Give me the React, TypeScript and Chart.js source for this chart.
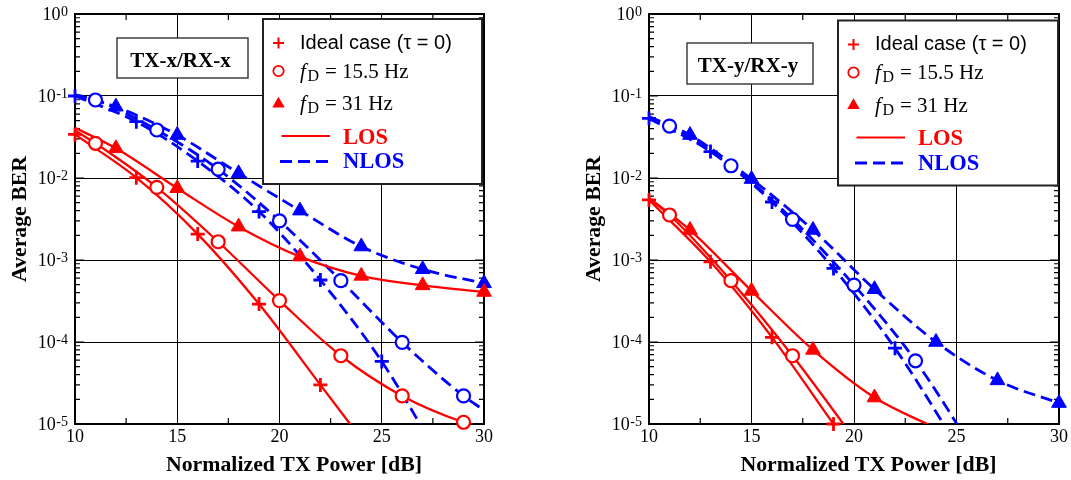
import { useEffect, useRef } from "react";
import { Chart, registerables } from "chart.js";
Chart.register(...registerables);

const RED = "#ff0000";
const BLUE = "#0000ff";
const SERIF = "'Liberation Serif', 'Times New Roman', serif";
const SANS = "'Liberation Sans', Arial, sans-serif";

// axis ticks
const xTickValues = [10, 15, 20, 25, 30];
const xMinorTicks = [12.5, 17.5, 22.5, 27.5];
const yDecadeExponents = [0, -1, -2, -3, -4, -5];

// ---------- LEFT panel: TX-x/RX-x ----------
const lLosIdealX = [10, 13, 16, 19, 22, 25];
const lLosIdealY = [0.034, 0.0101, 0.00207, 2.9e-4, 3.0e-5, 3.1e-6];
const lLosIdealMarks = [10, 13, 16, 19, 22];

const lLos155X = [10, 11, 14, 17, 20, 23, 26, 29, 30];
const lLos155Y = [0.038, 0.0265, 0.0077, 0.00167, 3.2e-4, 6.8e-5, 2.2e-5, 1.05e-5, 9.0e-6];
const lLos155Marks = [11, 14, 17, 20, 23, 26, 29];

const lLos31X = [10, 12, 15, 18, 21, 24, 27, 30];
const lLos31Y = [0.041, 0.023, 0.0075, 0.00255, 0.0011, 6.4e-4, 4.9e-4, 4.07e-4];
const lLos31Marks = [12, 15, 18, 21, 24, 27, 30];

const lNlosIdealX = [10, 13, 16, 19, 22, 25, 28];
const lNlosIdealY = [0.1, 0.0486, 0.0161, 0.0039, 5.7e-4, 5.8e-5, 3.3e-6];
const lNlosIdealMarks = [10, 13, 16, 19, 22, 25];

const lNlos155X = [10, 11, 14, 17, 20, 23, 26, 29, 30];
const lNlos155Y = [0.102, 0.0894, 0.0385, 0.0128, 0.003, 5.6e-4, 9.9e-5, 2.2e-5, 1.48e-5];
const lNlos155Marks = [11, 14, 17, 20, 23, 26, 29];

const lNlos31X = [10, 12, 15, 18, 21, 24, 27, 30];
const lNlos31Y = [0.104, 0.074, 0.0334, 0.0114, 0.004, 0.00146, 7.7e-4, 5.2e-4];
const lNlos31Marks = [12, 15, 18, 21, 24, 27, 30];

// ---------- RIGHT panel: TX-y/RX-y ----------
const rLosIdealX = [10, 13, 16, 19, 22];
const rLosIdealY = [0.0054, 9.5e-4, 1.14e-4, 1.0e-5, 9.0e-7];
const rLosIdealMarks = [10, 13, 16, 19];

const rLos155X = [10, 11, 14, 17, 20];
const rLos155Y = [0.0056, 0.00354, 5.6e-4, 6.8e-5, 6.7e-6];
const rLos155Marks = [11, 14, 17];

const rLos31X = [10, 12, 15, 18, 21, 24];
const rLos31Y = [0.0057, 0.00232, 4.2e-4, 8.0e-5, 2.1e-5, 8.9e-6];
const rLos31Marks = [12, 15, 18, 21];

const rNlosIdealX = [10, 13, 16, 19, 22, 25];
const rNlosIdealY = [0.0534, 0.021, 0.0051, 7.9e-4, 8.4e-5, 5.6e-6];
const rNlosIdealMarks = [10, 13, 16, 19, 22];

const rNlos155X = [10, 11, 14, 17, 20, 23, 26];
const rNlos155Y = [0.055, 0.043, 0.0141, 0.00313, 4.95e-4, 5.9e-5, 4.1e-6];
const rNlos155Marks = [11, 14, 17, 20, 23];

const rNlos31X = [10, 12, 15, 18, 21, 24, 27, 30];
const rNlos31Y = [0.056, 0.0334, 0.0097, 0.00232, 4.4e-4, 1.0e-4, 3.4e-5, 1.8e-5];
const rNlos31Marks = [12, 15, 18, 21, 24, 27, 30];

const legendLabels = ["Ideal case (τ = 0)", "= 15.5 Hz", "= 31 Hz", "LOS", "NLOS"];

type Curve = { xs: number[]; ys: number[]; marks: number[]; style: string; los: boolean };

const leftCurves: Curve[] = [
  { xs: lLosIdealX, ys: lLosIdealY, marks: lLosIdealMarks, style: "cross", los: true },
  { xs: lLos155X, ys: lLos155Y, marks: lLos155Marks, style: "circle", los: true },
  { xs: lLos31X, ys: lLos31Y, marks: lLos31Marks, style: "triangle", los: true },
  { xs: lNlosIdealX, ys: lNlosIdealY, marks: lNlosIdealMarks, style: "cross", los: false },
  { xs: lNlos155X, ys: lNlos155Y, marks: lNlos155Marks, style: "circle", los: false },
  { xs: lNlos31X, ys: lNlos31Y, marks: lNlos31Marks, style: "triangle", los: false },
];
const rightCurves: Curve[] = [
  { xs: rLosIdealX, ys: rLosIdealY, marks: rLosIdealMarks, style: "cross", los: true },
  { xs: rLos155X, ys: rLos155Y, marks: rLos155Marks, style: "circle", los: true },
  { xs: rLos31X, ys: rLos31Y, marks: rLos31Marks, style: "triangle", los: true },
  { xs: rNlosIdealX, ys: rNlosIdealY, marks: rNlosIdealMarks, style: "cross", los: false },
  { xs: rNlos155X, ys: rNlos155Y, marks: rNlos155Marks, style: "circle", los: false },
  { xs: rNlos31X, ys: rNlos31Y, marks: rNlos31Marks, style: "triangle", los: false },
];

type PanelCfg = {
  canvasLeft: number;
  canvasWidth: number;
  area: { left: number; right: number; top: number; bottom: number };
  label: string;
  labelBox: { x: number; y: number; w: number; h: number };
  legendBox: { x: number; y: number; w: number; h: number };
  curves: Curve[];
};

const H = 480;

const panels: PanelCfg[] = [
  {
    canvasLeft: 0,
    canvasWidth: 545,
    area: { left: 75, right: 484, top: 14, bottom: 424 },
    label: "TX-x/RX-x",
    labelBox: { x: 117, y: 38, w: 131, h: 40 },
    legendBox: { x: 263, y: 19, w: 219, h: 165 },
    curves: leftCurves,
  },
  {
    canvasLeft: 545,
    canvasWidth: 526,
    area: { left: 649, right: 1059, top: 14, bottom: 424 },
    label: "TX-y/RX-y",
    labelBox: { x: 687, y: 43, w: 126, h: 41 },
    legendBox: { x: 838, y: 20.5, w: 220, h: 165 },
    curves: rightCurves,
  },
];

function drawMarker(ctx: CanvasRenderingContext2D, style: string, x: number, y: number, color: string, r: number) {
  ctx.save();
  ctx.strokeStyle = color;
  ctx.fillStyle = color;
  ctx.setLineDash([]);
  ctx.beginPath();
  if (style === "cross") {
    ctx.lineWidth = 2;
    ctx.moveTo(x - r, y);
    ctx.lineTo(x + r, y);
    ctx.moveTo(x, y - r);
    ctx.lineTo(x, y + r);
    ctx.stroke();
  } else if (style === "circle") {
    ctx.lineWidth = 1.8;
    ctx.fillStyle = "#fff";
    ctx.arc(x, y, r, 0, Math.PI * 2);
    ctx.fill();
    ctx.stroke();
  } else {
    const rr = r * 1.2;
    ctx.moveTo(x, y - rr);
    ctx.lineTo(x + rr * 0.866, y + rr * 0.5);
    ctx.lineTo(x - rr * 0.866, y + rr * 0.5);
    ctx.closePath();
    ctx.fill();
  }
  ctx.restore();
}

function makePlugin(cfg: PanelCfg) {
  const off = cfg.canvasLeft;
  return {
    id: "panelDecor",
    beforeDatasetsDraw(chart: any) {
      const { ctx, chartArea: a, scales } = chart;
      const ys = scales.y;
      const xs = scales.x;
      ctx.save();
      ctx.strokeStyle = "#000";
      ctx.lineWidth = 1.2;
      ctx.beginPath();
      for (let e = -5; e <= 0; e++) {
        const py = ys.getPixelForValue(Math.pow(10, e));
        ctx.moveTo(a.left, py);
        ctx.lineTo(a.left + 9, py);
        ctx.moveTo(a.right, py);
        ctx.lineTo(a.right - 9, py);
        if (e < 0) {
          for (let k = 2; k <= 9; k++) {
            const pm = ys.getPixelForValue(k * Math.pow(10, e));
            ctx.moveTo(a.left, pm);
            ctx.lineTo(a.left + 5, pm);
            ctx.moveTo(a.right, pm);
            ctx.lineTo(a.right - 5, pm);
          }
        }
      }
      for (const v of xMinorTicks) {
        const px = xs.getPixelForValue(v);
        ctx.moveTo(px, a.bottom);
        ctx.lineTo(px, a.bottom - 6);
        ctx.moveTo(px, a.top);
        ctx.lineTo(px, a.top + 6);
      }
      ctx.stroke();
      ctx.lineWidth = 2;
      ctx.strokeRect(a.left, a.top, a.right - a.left, a.bottom - a.top);
      ctx.restore();
    },
    afterDatasetsDraw(chart: any) {
      const { ctx, chartArea: a, scales } = chart;
      const ys = scales.y;
      const xs = scales.x;
      ctx.save();
      ctx.fillStyle = "#000";
      // y tick labels
      for (const e of yDecadeExponents) {
        const py = ys.getPixelForValue(Math.pow(10, e));
        const expStr = e === 0 ? "0" : "-" + String(-e);
        ctx.font = `14px ${SERIF}`;
        const ew = ctx.measureText(expStr).width;
        const xEnd = a.left - 7;
        ctx.textAlign = "left";
        ctx.textBaseline = "alphabetic";
        ctx.fillText(expStr, xEnd - ew, py + 1.5);
        ctx.font = `18px ${SERIF}`;
        ctx.textAlign = "right";
        ctx.fillText("10", xEnd - ew - 0.5, py + 6);
      }
      // x tick labels
      ctx.font = `18px ${SERIF}`;
      ctx.textAlign = "center";
      for (const v of xTickValues) {
        ctx.fillText(String(v), xs.getPixelForValue(v), a.bottom + 18);
      }
      // axis titles
      ctx.font = `bold 21.8px ${SERIF}`;
      ctx.fillText("Normalized TX Power [dB]", (a.left + a.right) / 2 + 14.5, 471);
      ctx.save();
      ctx.translate(a.left - 56, (a.top + a.bottom) / 2);
      ctx.rotate(-Math.PI / 2);
      ctx.fillText("Average BER", 0, 7);
      ctx.restore();

      // label box
      const lb = cfg.labelBox;
      ctx.fillStyle = "#fff";
      ctx.fillRect(lb.x - off, lb.y, lb.w, lb.h);
      ctx.strokeStyle = "#333";
      ctx.lineWidth = 1.4;
      ctx.strokeRect(lb.x - off, lb.y, lb.w, lb.h);
      ctx.fillStyle = "#000";
      ctx.font = `bold 21px ${SERIF}`;
      ctx.textAlign = "center";
      ctx.fillText(cfg.label, lb.x - off + lb.w / 2 - 2, lb.y + 28.5);

      // legend box
      const g = cfg.legendBox;
      const gx = g.x - off;
      const gy = g.y;
      ctx.fillStyle = "#fff";
      ctx.fillRect(gx, gy, g.w, g.h);
      ctx.strokeStyle = "#222";
      ctx.lineWidth = 2;
      ctx.strokeRect(gx, gy, g.w, g.h);

      const mx = gx + 15.5;
      drawMarker(ctx, "cross", mx, gy + 24, RED, 5.5);
      drawMarker(ctx, "circle", mx, gy + 52, RED, 5.2);
      drawMarker(ctx, "triangle", mx, gy + 85, RED, 6);

      ctx.textAlign = "left";
      ctx.fillStyle = "#000";
      ctx.font = `20px ${SANS}`;
      ctx.fillText(legendLabels[0], gx + 37, gy + 29.5);

      const rows = [
        { base: gy + 58.7, text: legendLabels[1] },
        { base: gy + 91, text: legendLabels[2] },
      ];
      for (const r of rows) {
        ctx.font = `italic 21px ${SERIF}`;
        ctx.fillText("f", gx + 37, r.base);
        ctx.font = `16px ${SERIF}`;
        ctx.fillText("D", gx + 44.5, r.base + 3);
        ctx.font = `21px ${SERIF}`;
        ctx.fillText(r.text, gx + 62, r.base);
      }

      // LOS / NLOS samples
      ctx.strokeStyle = RED;
      ctx.lineWidth = 2;
      ctx.beginPath();
      ctx.moveTo(gx + 18.5, gy + 117);
      ctx.lineTo(gx + 67, gy + 117);
      ctx.stroke();
      ctx.strokeStyle = BLUE;
      ctx.lineWidth = 2.8;
      ctx.setLineDash([12, 6]);
      ctx.beginPath();
      ctx.moveTo(gx + 17, gy + 142.5);
      ctx.lineTo(gx + 69, gy + 142.5);
      ctx.stroke();
      ctx.setLineDash([]);

      ctx.font = `bold 22.5px ${SERIF}`;
      ctx.fillStyle = RED;
      ctx.fillText(legendLabels[3], gx + 80, gy + 124.5);
      ctx.fillStyle = BLUE;
      ctx.fillText(legendLabels[4], gx + 80, gy + 149);
      ctx.restore();
    },
  };
}

function buildDatasets(curves: Curve[]) {
  const markerSets: any[] = [];
  const lineSets: any[] = [];
  for (const c of curves) {
    const color = c.los ? RED : BLUE;
    lineSets.push({
      data: c.xs.map((x, i) => ({ x, y: c.ys[i] })),
      borderColor: color,
      borderWidth: c.los ? 2.3 : 2.8,
      borderDash: c.los ? [] : [12, 6],
      pointRadius: 0,
      fill: false,
      cubicInterpolationMode: "monotone",
      clip: 0,
    });
    const radius = c.style === "cross" ? 7 : c.style === "circle" ? 6.5 : 8.5;
    markerSets.push({
      data: c.marks.map((x) => ({ x, y: c.ys[c.xs.indexOf(x)] })),
      showLine: false,
      pointStyle: c.style,
      pointRadius: radius,
      pointBorderWidth: c.style === "cross" ? 2.8 : c.style === "circle" ? 2.2 : 1,
      pointBorderColor: color,
      pointBackgroundColor: c.style === "circle" ? "#fff" : color,
      clip: false,
    });
  }
  return [...markerSets, ...lineSets];
}

function Panel({ cfg }: { cfg: PanelCfg }) {
  const ref = useRef<HTMLCanvasElement | null>(null);
  useEffect(() => {
    if (!ref.current) return;
    const W = cfg.canvasWidth;
    const a = {
      left: cfg.area.left - cfg.canvasLeft,
      right: cfg.area.right - cfg.canvasLeft,
      top: cfg.area.top,
      bottom: cfg.area.bottom,
    };
    const chart = new Chart(ref.current, {
      type: "line",
      data: { datasets: buildDatasets(cfg.curves) },
      options: {
        responsive: false,
        animation: false,
        devicePixelRatio: 1,
        events: [],
        layout: { padding: { left: 0, top: a.top, right: W - a.right, bottom: 0 } },
        plugins: { legend: { display: false }, tooltip: { enabled: false }, title: { display: false } },
        scales: {
          x: {
            type: "linear",
            min: 10,
            max: 30,
            ticks: { display: false, stepSize: 5 },
            grid: { color: "#000", lineWidth: 1, drawTicks: false },
            border: { display: false },
            afterFit: (s: any) => {
              s.height = H - a.bottom;
            },
          },
          y: {
            type: "logarithmic",
            min: 1e-5,
            max: 1,
            ticks: { display: false },
            afterBuildTicks: (s: any) => {
              s.ticks = yDecadeExponents.map((e) => ({ value: Math.pow(10, e) }));
            },
            grid: { color: "#000", lineWidth: 1, drawTicks: false },
            border: { display: false },
            afterFit: (s: any) => {
              s.width = a.left;
            },
          },
        },
      } as any,
      plugins: [makePlugin(cfg)],
    });
    return () => chart.destroy();
  }, [cfg]);
  return (
    <canvas
      ref={ref}
      width={cfg.canvasWidth}
      height={H}
      style={{ position: "absolute", left: cfg.canvasLeft, top: 0, width: cfg.canvasWidth, height: H }}
    />
  );
}

export default function App() {
  return (
    <div style={{ position: "absolute", left: 0, top: 0, width: 1071, height: H, overflow: "hidden", background: "#fff" }}>
      {panels.map((p, i) => (
        <Panel key={i} cfg={p} />
      ))}
    </div>
  );
}
